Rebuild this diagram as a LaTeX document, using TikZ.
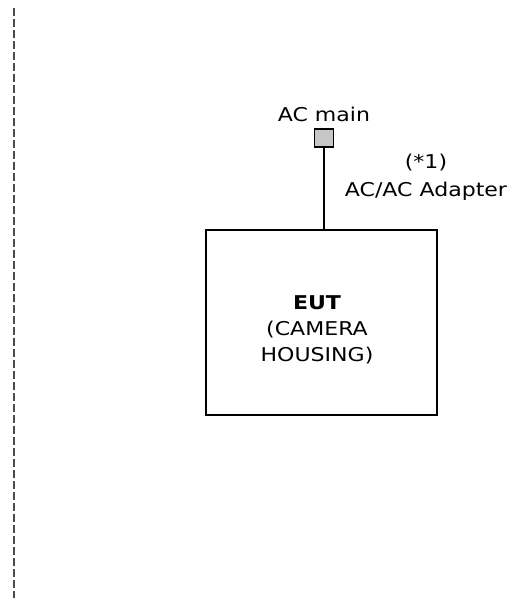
\documentclass[tikz,border=0pt]{standalone}
\usepackage{fontspec}
\newfontfamily\verdfont[FakeStretch=1.16]{DejaVu Sans}
\usepackage{tikz}
\usetikzlibrary{positioning}

\begin{document}
\begin{tikzpicture}[
  x=1pt, y=-1pt,
  every node/.style={font=\verdfont\fontsize{19}{26}\selectfont, inner sep=0pt},
  eutbox/.style={draw, line width=1.6pt, minimum width=231pt, minimum height=185pt},
  plugbox/.style={draw, line width=1.2pt, fill=gray!45, minimum width=19pt, minimum height=18pt},
  cable/.style={line width=1.4pt},
  border/.style={line width=1.6pt, black!70, dash pattern=on 8pt off 3pt},
]
  \useasboundingbox (0,0) rectangle (514,598);

  % left border
  \draw[border] (14,8) -- (14,598);

  \node[eutbox] (eut) at (321.5,322.5) {};
  \node[align=center] (eutlabel) at (317,330) {\textbf{EUT}\\(CAMERA\\HOUSING)};

  \node[plugbox] (acmain) at (324,138) {};
  \node (acmainlabel) at (324,114) {AC main};
  \node[align=center, font=\verdfont\fontsize{19}{28}\selectfont]
    (adapter) at (426,177) {(*1)\\AC/AC Adapter};

  \draw[cable] (acmain.south) -- (acmain.south |- eut.north);
\end{tikzpicture}
\end{document}
